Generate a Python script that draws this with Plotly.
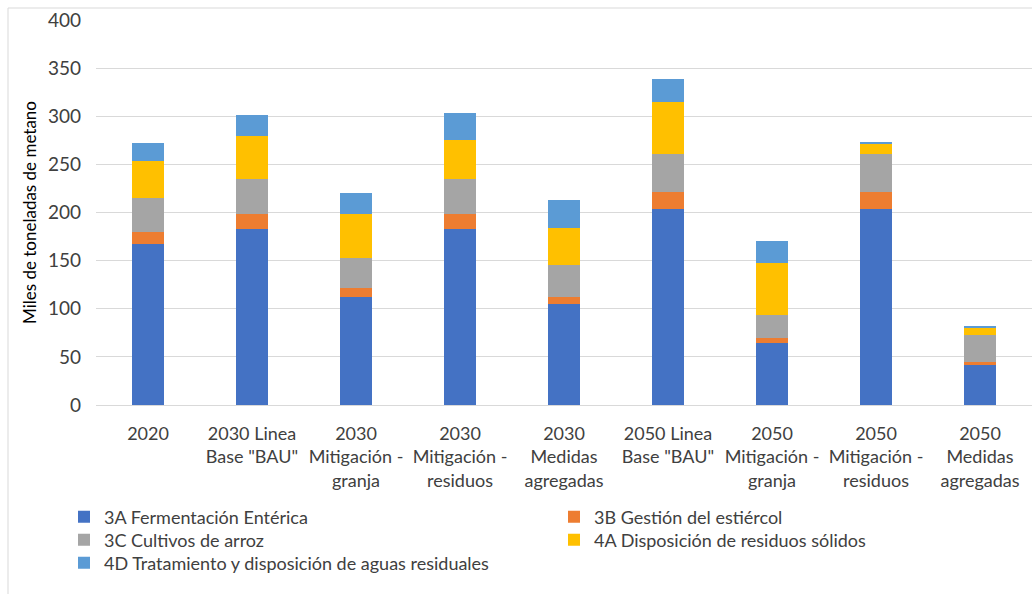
import plotly.graph_objects as go

categories = ["2020", "2030 Linea<br>Base \"BAU\"", "2030<br>Mitigación -<br>granja",
              "2030<br>Mitigación -<br>residuos", "2030<br>Medidas<br>agregadas",
              "2050 Linea<br>Base \"BAU\"", "2050<br>Mitigación -<br>granja",
              "2050<br>Mitigación -<br>residuos", "2050<br>Medidas<br>agregadas"]

s3A = [167, 183, 112, 183, 104.5, 203.5, 64, 203.5, 42]
s3B = [13, 15.5, 10, 15.5, 7.5, 17.5, 6, 17.5, 3]
s3C = [35, 36, 31, 36, 33, 39.5, 23, 39.5, 27.5]
s4A = [38, 45, 45, 40.5, 39, 54.5, 54.5, 11, 8.5]
s4D = [19.5, 21.5, 22, 28, 28.5, 24, 23, 1, 1.5]

names = ["3A Fermentación Entérica", "3B Gestión del estiércol", "3C Cultivos de arroz",
         "4A Disposición de residuos sólidos", "4D Tratamiento y disposición de aguas residuales"]
colors = ["#4472C4", "#ED7D31", "#A5A5A5", "#FFC000", "#5B9BD5"]
series = [s3A, s3B, s3C, s4A, s4D]

FONT = "Lato, sans-serif"
TXT = "#404040"

W, H = 1032, 594
L, R, T, B = 96, 0, 20, 189
pw, ph = W - L - R, H - T - B

def px_x(p):
    return (p - L) / pw

def px_y(p):
    return (H - B - p) / ph

# legend slots (page pixels): (left x, centre y)
leg_pos = [(64, 517), (554, 517), (64, 540), (554, 540), (64, 563)]
leg_ids = ["legend", "legend2", "legend3", "legend4", "legend5"]

fig = go.Figure()
for n, c, s, lg in zip(names, colors, series, leg_ids):
    fig.add_trace(go.Bar(x=categories, y=s, name=n, marker=dict(color=c, line=dict(width=0)),
                         width=0.31, legend=lg, showlegend=True))

legends = {}
for lg, (lx, ly) in zip(leg_ids, leg_pos):
    legends[lg] = dict(x=px_x(lx), y=px_y(ly), xanchor="left", yanchor="middle",
                       orientation="v", font=dict(size=18, color=TXT), itemwidth=30,
                       bgcolor="rgba(0,0,0,0)", borderwidth=0, visible=True)

fig.update_layout(
    width=W, height=H, barmode="stack", showlegend=True,
    margin=dict(l=L, r=R, t=T, b=B),
    plot_bgcolor="white", paper_bgcolor="white",
    font=dict(family=FONT, size=18, color=TXT),
    xaxis=dict(showgrid=False, showline=False, ticks="", automargin=False,
               tickfont=dict(size=18, color=TXT), ticklabelstandoff=16),
    yaxis=dict(range=[0, 400], dtick=50, showgrid=True, gridcolor="#D9D9D9", gridwidth=1,
               zeroline=True, zerolinecolor="#D9D9D9", zerolinewidth=1, automargin=False,
               showline=False, ticks="", ticklabelstandoff=14,
               tickfont=dict(size=19, color=TXT),
               title=dict(text="Miles de toneladas de metano", font=dict(size=17, color="#000000"),
                          standoff=6)),
    shapes=[dict(type="rect", xref="paper", yref="paper",
                 x0=px_x(8), x1=px_x(1045), y0=px_y(600), y1=px_y(8),
                 line=dict(color="#D9D9D9", width=1), fillcolor="rgba(0,0,0,0)", layer="below")],
    **legends,
)

fig.write_html("out.html", config={"displayModeBar": False},
               post_script="document.body.style.margin='0';")
